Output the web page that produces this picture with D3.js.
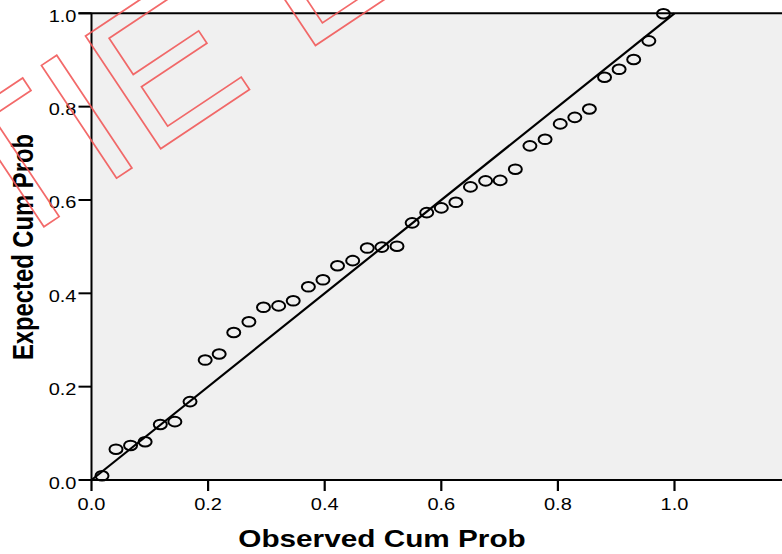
<!DOCTYPE html>
<html>
<head>
<meta charset="utf-8">
<script src="https://cdn.jsdelivr.net/npm/d3@7"></script>
<style>
  html, body { margin: 0; padding: 0; background: #fff; }
  svg { display: block; }
</style>
</head>
<body>
<svg width="782" height="554"></svg>
<script>
// observed vs expected cumulative probability (P-P plot)
var observed = [0.018, 0.042, 0.067, 0.092, 0.118, 0.143, 0.169, 0.195, 0.219, 0.244,
                0.270, 0.295, 0.321, 0.346, 0.372, 0.397, 0.422, 0.448, 0.473, 0.498,
                0.524, 0.550, 0.575, 0.600, 0.625, 0.650, 0.676, 0.701, 0.727, 0.752,
                0.778, 0.804, 0.829, 0.854, 0.880, 0.905, 0.930, 0.956, 0.981]
var expected = [0.009, 0.066, 0.074, 0.082, 0.119, 0.125, 0.168, 0.257, 0.270, 0.316,
                0.339, 0.370, 0.373, 0.384, 0.414, 0.429, 0.459, 0.470, 0.497, 0.499,
                0.501, 0.551, 0.573, 0.583, 0.595, 0.628, 0.641, 0.642, 0.666, 0.716,
                0.730, 0.763, 0.777, 0.795, 0.863, 0.880, 0.901, 0.941, 0.999]
var xTicks = [0, 0.2, 0.4, 0.6, 0.8, 1.0]
var yTicks = [0, 0.2, 0.4, 0.6, 0.8, 1.0]
var xTitle = 'Observed Cum Prob'
var yTitle = 'Expected Cum Prob'
var watermark = 'TIE E'

var svg = d3.select('svg')
  , font = '"Liberation Sans", Arial, sans-serif'
  , stretch = 1.25   // the original picture is widened a bit
  , plotL = 91.5, plotT = 13.3, plotB = 480

var x = d3.scaleLinear().domain([0, 1.2]).range([plotL, plotL + 583 * 1.2])
var y = d3.scaleLinear().domain([0, 1]).range([plotB, plotT])

svg.append('rect')
  .attr('x', plotL).attr('y', plotT)
  .attr('width', 782 - plotL).attr('height', plotB - plotT)
  .attr('fill', '#f0f0f0')

// reference diagonal
svg.append('line')
  .attr('x1', x(0)).attr('y1', y(0))
  .attr('x2', x(1)).attr('y2', y(1))
  .attr('stroke', '#000').attr('stroke-width', 2.2)

// points
svg.append('g').selectAll('ellipse').data(observed).enter().append('ellipse')
  .attr('cx', function (d) { return x(d) })
  .attr('cy', function (d, i) { return y(expected[i]) })
  .attr('rx', 6.5).attr('ry', 4.8)
  .attr('fill', 'none').attr('stroke', '#000').attr('stroke-width', 2)

// frame
svg.append('line').attr('x1', plotL - 13).attr('x2', 782).attr('y1', plotT).attr('y2', plotT)
  .attr('stroke', '#000').attr('stroke-width', 2)
svg.append('line').attr('x1', plotL).attr('x2', plotL).attr('y1', plotT).attr('y2', plotB + 1)
  .attr('stroke', '#000').attr('stroke-width', 2)
svg.append('line').attr('x1', plotL - 1).attr('x2', 782).attr('y1', plotB).attr('y2', plotB)
  .attr('stroke', '#000').attr('stroke-width', 2)

function label(g, txt, tx, ty, size, weight, anchor, rot) {
  return g.append('text')
    .attr('transform', 'translate(' + tx + ',' + ty + ') scale(' + stretch + ',1)' + (rot ? ' rotate(' + rot + ')' : ''))
    .attr('text-anchor', anchor)
    .attr('font-family', font).attr('font-size', size).attr('font-weight', weight)
    .attr('fill', '#000')
    .text(txt)
}

var xg = svg.append('g')
xTicks.forEach(function (t) {
  xg.append('line').attr('x1', x(t)).attr('x2', x(t)).attr('y1', plotB).attr('y2', plotB + 11)
    .attr('stroke', '#000').attr('stroke-width', 2.2)
  label(xg, d3.format('.1f')(t), x(t), plotB + 30, 16, 'normal', 'middle')
})

var yg = svg.append('g')
yTicks.forEach(function (t) {
  yg.append('line').attr('x1', plotL - 13).attr('x2', plotL).attr('y1', y(t)).attr('y2', y(t))
    .attr('stroke', '#000').attr('stroke-width', 2)
  label(yg, d3.format('.1f')(t), plotL - 15, y(t) + 8.5, 16, 'normal', 'end')
})

label(svg, xTitle, 382, 547, 23.8, 'bold', 'middle')
label(svg, yTitle, 33, 247, 23.8, 'bold', 'middle', -90)

// outlined watermark
svg.append('text')
  .attr('transform', 'translate(1.5,255) rotate(-33.7)')
  .attr('font-family', font).attr('font-size', 197)
  .attr('fill', 'none').attr('stroke', '#f25a5a').attr('stroke-width', 1.7)
  .attr('opacity', 0.9)
  .attr('xml:space', 'preserve')
  .text(watermark)
</script>
</body>
</html>
